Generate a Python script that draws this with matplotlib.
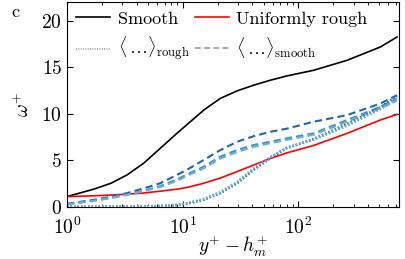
import numpy as np
import matplotlib
matplotlib.use('Agg')
import matplotlib.pyplot as plt
from matplotlib.lines import Line2D

plt.rcParams['font.family'] = 'serif'
plt.rcParams['font.serif'] = ['cmr10']
plt.rcParams['mathtext.fontset'] = 'cm'
plt.rcParams['axes.formatter.use_mathtext'] = True
plt.rcParams['axes.unicode_minus'] = False

# wall-normal distance y+ - h_m+
yp = [1, 1.7, 2.4, 3.3, 4.6, 6.4, 8.9, 10.9, 15.2, 21.1, 29.5, 41, 57, 79, 135, 263, 510, 711]

w_smooth = [1.12, 1.91, 2.55, 3.44, 4.7, 6.3, 7.9, 8.85, 10.4, 11.65, 12.46, 13.07, 13.6, 14.06, 14.67, 15.74, 17.17, 18.24]
w_rough = [1.12, 1.2, 1.28, 1.38, 1.5, 1.7, 1.91, 2.1, 2.55, 3.1, 3.8, 4.5, 5.2, 5.8, 6.6, 7.9, 9.33, 9.94]

# <...>_smooth averages (dashed)
w_sm_a = [0.34, 0.77, 1.1, 1.49, 2.0, 2.55, 3.44, 4.0, 5.05, 6.1, 7.0, 7.6, 8.07, 8.4, 9.15, 9.86, 11.1, 12.0]
w_sm_b = [0.3, 0.7, 1.0, 1.35, 1.75, 2.25, 2.95, 3.5, 4.33, 5.4, 6.12, 6.65, 7.0, 7.37, 7.9, 9.33, 10.75, 11.65]
w_sm_c = [0.28, 0.65, 0.95, 1.3, 1.7, 2.15, 2.8, 3.35, 4.15, 5.2, 5.9, 6.45, 6.85, 7.2, 7.75, 9.15, 10.6, 11.4]

# <...>_rough averages (dotted)
w_ro_a = [0.02, 0.02, 0.03, 0.04, 0.06, 0.1, 0.2, 0.35, 0.77, 1.49, 2.55, 3.98, 5.23, 6.3, 7.3, 8.9, 10.7, 11.9]
w_ro_b = [0.02, 0.02, 0.03, 0.04, 0.06, 0.1, 0.22, 0.38, 0.8, 1.55, 2.6, 4.05, 5.3, 6.35, 7.25, 8.8, 10.6, 11.7]
w_ro_c = [0.02, 0.02, 0.03, 0.04, 0.06, 0.11, 0.25, 0.42, 0.85, 1.6, 2.7, 4.15, 5.35, 6.35, 7.2, 8.7, 10.5, 11.55]

blues = ['#2166ac', '#4292c6', '#6baed6']

fig = plt.figure(figsize=(4.06, 2.59), dpi=100)
ax = fig.add_axes([67 / 406, 52 / 259, 332 / 406, 205 / 259])

ax.plot(yp, w_smooth, color='black', lw=1.2)
ax.plot(yp, w_rough, color='red', lw=1.2)
for w, c in zip([w_sm_a, w_sm_b, w_sm_c], blues):
    ax.plot(yp, w, color=c, lw=1.5, ls=(0, (3.5, 2)))
for w, c in zip([w_ro_a, w_ro_b, w_ro_c], blues):
    ax.plot(yp, w, color=c, lw=1.8, ls=(0, (0.6, 0.8)))

ax.set_xscale('log')
ax.set_xlim(1, 740)
ax.set_ylim(0, 22)
ax.set_yticks([0, 5, 10, 15, 20])
ax.tick_params(which='both', direction='in', top=True, right=True, labelsize=14)
ax.tick_params(axis='x', pad=7)
ax.tick_params(which='major', length=4)
ax.tick_params(which='minor', length=2.5)
ax.set_xlabel(r'$y^{+} - h_m^{+}$', fontsize=14, labelpad=-3)
ax.set_ylabel(r'$\omega^{+}$', fontsize=14, labelpad=6)

handles = [
    Line2D([], [], color='black', lw=1.2),
    Line2D([], [], color='#999999', lw=1.2, ls=(0, (0.6, 0.8))),
    Line2D([], [], color='red', lw=1.2),
    Line2D([], [], color='#999999', lw=1.2, ls=(0, (3.5, 2))),
]
labels = ['Smooth', r'$\langle\,\ldots\rangle_{\mathrm{rough}}$',
          'Uniformly rough', r'$\langle\,\ldots\rangle_{\mathrm{smooth}}$']
ax.legend(handles, labels, ncol=2, loc='upper left', frameon=False, fontsize=13,
          handlelength=1.9, handletextpad=0.4, columnspacing=0.3,
          labelspacing=0.45, borderaxespad=0.2, borderpad=0.3)

fig.text(15 / 406, 1 - 12 / 259, 'c', fontsize=13, ha='center', va='center')

fig.savefig('out.png', dpi=100)
